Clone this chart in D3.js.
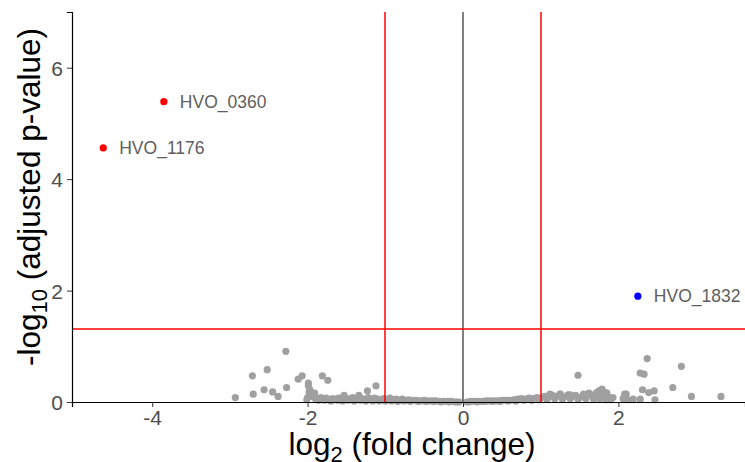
<!DOCTYPE html>
<html>
<head>
<meta charset="utf-8">
<script src="https://cdn.jsdelivr.net/npm/d3@7"></script>
<style>
  html, body { margin: 0; padding: 0; background: #ffffff; }
  svg { display: block; font-family: "Liberation Sans", Arial, sans-serif; }
</style>
</head>
<body>
<svg id="chart" width="745" height="462"></svg>
<script>
// Non-significant genes: log2 fold change and -log10 adjusted p-value
const nsLog2FC = [
  -2.93, -2.71, -2.70, -2.52, -2.56, -2.45, -2.38, -2.28, -2.27, -2.12,
  -2.07, -1.99, -1.98, -2.00, -1.91, -1.96, -1.81, -1.74, -1.83, -1.12,
  -1.23, -2.01, -1.97, -1.94, -1.99, -1.90,
  -1.88, -1.85, -1.80, -1.76, -1.72, -1.68, -1.64, -1.60, -1.57, -1.53,
  -1.50, -1.46, -1.42, -1.38, -1.34, -1.30, -1.27, -1.22, -1.18, -1.14,
  -1.10, -1.06, -1.02, -0.98, -0.94, -0.90, -0.86, -0.82, -0.78, -0.74,
  -0.70, -0.65, -0.60, -0.55, -0.50, -0.45, -0.40, -0.35, -0.30, -0.25,
  -0.20, -0.15, -0.10, -0.05,
  -1.86, -1.78, -1.70, -1.62, -1.55, -1.48, -1.40, -1.32, -1.25, -1.16,
  -1.08, -1.00, -0.92, -0.84, -0.76, -0.68, -0.58, -0.48, -0.38, -0.28,
  -0.18, -0.08,
  0.05, 0.10, 0.15, 0.20, 0.25, 0.30, 0.35, 0.40, 0.45, 0.50,
  0.55, 0.60, 0.65, 0.70, 0.75, 0.80, 0.85, 0.90, 0.95, 1.00,
  1.05, 1.10, 1.15, 1.20, 1.25, 1.30, 1.35, 1.40, 1.45, 1.50,
  1.55, 1.60, 1.65, 1.70, 1.75, 1.78, 1.82, 1.85, 1.88, 1.90,
  0.08, 0.18, 0.28, 0.38, 0.48, 0.58, 0.68, 0.78, 0.88, 0.98,
  1.08, 1.18, 1.28, 1.38, 1.48, 1.58, 1.68, 1.76, 1.84,
  1.12, 1.25, 1.38, 1.72, 1.93, 1.62, 1.80,
  1.48, 2.28, 2.33, 2.37, 2.81, 2.31, 2.39, 2.46, 2.47, 2.70,
  2.94, 3.32, 1.79, 1.85, 2.08, 2.06, 2.19, 2.28, 2.10, 2.12
];
const nsNegLog10P = [
  0.08, 0.47, 0.14, 0.58, 0.22, 0.18, 0.10, 0.91, 0.26, 0.41,
  0.47, 0.29, 0.18, 0.08, 0.16, 0.12, 0.47, 0.39, 0.08, 0.29,
  0.20, 0.04, 0.22, 0.10, 0.34, 0.06,
  0.06, 0.04, 0.05, 0.07, 0.04, 0.06, 0.05, 0.07, 0.04, 0.12,
  0.06, 0.05, 0.08, 0.05, 0.12, 0.06, 0.04, 0.08, 0.05, 0.07,
  0.05, 0.04, 0.06, 0.05, 0.07, 0.04, 0.05, 0.04, 0.05, 0.03,
  0.04, 0.03, 0.03, 0.02, 0.03, 0.02, 0.02, 0.02, 0.01, 0.01,
  0.01, 0.01, 0.00, 0.00,
  0.03, 0.03, 0.02, 0.03, 0.02, 0.03, 0.02, 0.03, 0.02, 0.02,
  0.02, 0.02, 0.02, 0.01, 0.02, 0.01, 0.01, 0.01, 0.01, 0.00,
  0.00, 0.00,
  0.00, 0.01, 0.01, 0.01, 0.01, 0.02, 0.02, 0.02, 0.02, 0.03,
  0.03, 0.03, 0.04, 0.05, 0.06, 0.05, 0.07, 0.06, 0.08, 0.07,
  0.10, 0.09, 0.12, 0.10, 0.14, 0.09, 0.13, 0.10, 0.12, 0.08,
  0.14, 0.11, 0.13, 0.09, 0.20, 0.15, 0.12, 0.16, 0.08, 0.04,
  0.00, 0.00, 0.01, 0.01, 0.01, 0.02, 0.02, 0.03, 0.03, 0.04,
  0.05, 0.06, 0.05, 0.06, 0.05, 0.06, 0.05, 0.06, 0.04,
  0.14, 0.14, 0.13, 0.17, 0.08, 0.16, 0.18,
  0.48, 0.52, 0.50, 0.78, 0.64, 0.22, 0.17, 0.20, 0.04, 0.26,
  0.10, 0.10, 0.23, 0.16, 0.14, 0.06, 0.05, 0.05, 0.14, 0.04
];

// Significant genes (labelled)
const sigGenes = ["HVO_0360", "HVO_1176", "HVO_1832"];
const sigLog2FC = [-3.85, -4.63, 2.25];
const sigNegLog10P = [5.39, 4.56, 1.90];

// Thresholds
const fcCutoffs = [-1, 1];
const pCutoff = -Math.log10(0.05);

// Axis ticks
const xTicks = [-4, -2, 0, 2];
const yTicks = [0, 2, 4, 6];

const svg = d3.select("#chart");
const margin = { left: 72, right: 0, top: 12, bottom: 60 };
const W = 745, H = 462;

const x = d3.scaleLinear().domain([-5.032, 3.629]).range([margin.left, W - margin.right]);
const y = d3.scaleLinear().domain([0, 7]).range([H - margin.bottom, margin.top]);

// Place a thin rule so it fills an even/odd pixel pair (keeps its colour solid)
const pair = v => 2 * Math.floor(v / 2) + 1;

const ns = nsLog2FC.map((v, i) => ({ fc: v, p: nsNegLog10P[i] }));
const sig = sigGenes.map((g, i) => ({ gene: g, fc: sigLog2FC[i], p: sigNegLog10P[i] }));

// Non-significant points
svg.append("g").selectAll("circle").data(ns).join("circle")
  .attr("cx", d => x(d.fc))
  .attr("cy", d => y(d.p))
  .attr("r", 3.6)
  .attr("fill", "#a0a0a0");

// Reference lines
const lines = svg.append("g");
lines.append("line")
  .attr("x1", pair(x(0))).attr("x2", pair(x(0)))
  .attr("y1", y.range()[1]).attr("y2", y(0))
  .attr("stroke", "#555555").attr("stroke-width", 1.5);
lines.selectAll("line.fc").data(fcCutoffs).join("line")
  .attr("class", "fc")
  .attr("x1", d => pair(x(d))).attr("x2", d => pair(x(d)))
  .attr("y1", y.range()[1]).attr("y2", y(0))
  .attr("stroke", "#ff0000").attr("stroke-width", 1.5);
lines.append("line")
  .attr("x1", x.range()[0]).attr("x2", x.range()[1])
  .attr("y1", pair(y(pCutoff))).attr("y2", pair(y(pCutoff)))
  .attr("stroke", "#ff0000").attr("stroke-width", 1.5);

// Significant points and labels
const sg = svg.append("g");
sg.selectAll("circle").data(sig).join("circle")
  .attr("cx", d => x(d.fc))
  .attr("cy", d => y(d.p))
  .attr("r", 3.6)
  .attr("fill", d => d.fc > 0 ? "#0000ff" : "#ff0000");
sg.selectAll("text").data(sig).join("text")
  .attr("x", d => x(d.fc) + 16)
  .attr("y", d => y(d.p))
  .attr("dy", "0.35em")
  .attr("font-size", 17.5)
  .attr("fill", "#5e5e5e")
  .text(d => d.gene);

// Axes
const xAxis = svg.append("g")
  .attr("transform", `translate(0,${y(0)})`)
  .call(d3.axisBottom(x).tickValues(xTicks).tickSize(5).tickPadding(4).tickFormat(d => String(d)));
const yAxis = svg.append("g")
  .attr("transform", `translate(${x.range()[0]},0)`)
  .call(d3.axisLeft(y).tickValues(yTicks).tickSize(5).tickPadding(4).tickFormat(d => String(d)));

[xAxis, yAxis].forEach(a => {
  a.select(".domain").attr("stroke", "#000").attr("stroke-width", 1.2);
  a.selectAll(".tick line").attr("stroke", "#333");
  a.selectAll(".tick text")
    .attr("fill", "#4d4d4d")
    .attr("font-size", 21)
    .attr("font-family", "Liberation Sans, Arial, sans-serif");
});
xAxis.selectAll(".tick text").attr("dy", "0.71em").attr("y", 8);
yAxis.selectAll(".tick text").attr("x", -9).attr("dy", "0.36em");

// Axis titles
const xt = svg.append("text")
  .attr("x", 412)
  .attr("y", 455)
  .attr("text-anchor", "middle")
  .attr("font-size", 31.5)
  .attr("fill", "#000");
xt.append("tspan").text("log");
xt.append("tspan").attr("font-size", 22).attr("dy", 7).text("2");
xt.append("tspan").attr("dy", -7).text(" (fold change)");

const yt = svg.append("text")
  .attr("transform", "translate(40,197) rotate(-90)")
  .attr("text-anchor", "middle")
  .attr("font-size", 31.5)
  .attr("fill", "#000");
yt.append("tspan").text("-log");
yt.append("tspan").attr("font-size", 22).attr("dy", 7).text("10");
yt.append("tspan").attr("dy", -7).text(" (adjusted p-value)");
</script>
</body>
</html>
